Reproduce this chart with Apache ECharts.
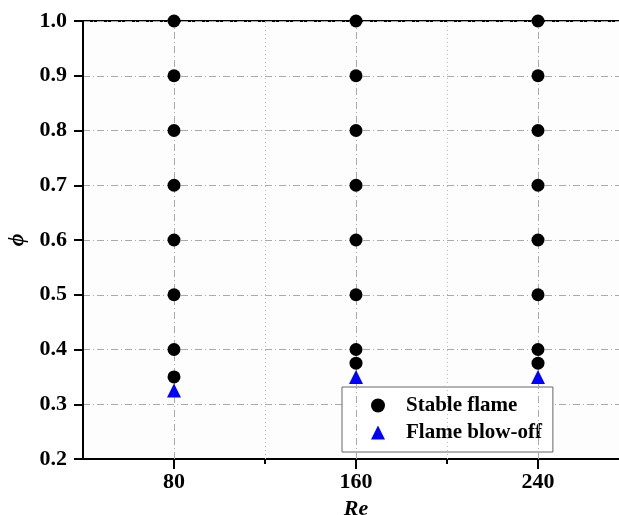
<!DOCTYPE html>
<html><head><meta charset="utf-8">
<script src="https://cdn.jsdelivr.net/npm/echarts@6/dist/echarts.min.js"></script>
<style>html,body{margin:0;padding:0;background:#fff}#c{width:619px;height:515px}</style>
</head><body><div id="c"></div>
<script>
var reValues = [80, 160, 240];
var minorRe = [120, 200];
var stable80 = [1.0, 0.9, 0.8, 0.7, 0.6, 0.5, 0.4, 0.35];
var stable160 = [1.0, 0.9, 0.8, 0.7, 0.6, 0.5, 0.4, 0.375];
var stable240 = [1.0, 0.9, 0.8, 0.7, 0.6, 0.5, 0.4, 0.375];
var blowOff = [0.325, 0.35, 0.35];
var seriesNames = ['Stable flame', 'Flame blow-off'];

var stableData = [];
[stable80, stable160, stable240].forEach(function (arr, i) {
  arr.forEach(function (v) { stableData.push([reValues[i], v]); });
});
var blowData = blowOff.map(function (v, i) { return [reValues[i], v]; });

var font = 'Liberation Serif';
var chart = echarts.init(document.getElementById('c'));
chart.setOption({
  animation: false,
  backgroundColor: '#fff',
  grid: { left: 83, right: -10, top: 21, bottom: 56, containLabel: false, outerBoundsMode: 'none',
    show: true, borderColor: '#000', borderWidth: 2, backgroundColor: '#fdfdfd' },
  xAxis: [{
    type: 'value', min: 40, max: 280, interval: 40, position: 'bottom',
    name: 'Re', nameLocation: 'middle', nameGap: 36,
    nameTextStyle: { fontFamily: font, fontWeight: 'bold', fontStyle: 'italic', fontSize: 22, color: '#000' },
    axisLine: { show: true, lineStyle: { color: '#000', width: 2 } },
    axisTick: { show: true, length: 10, inside: false, customValues: reValues, lineStyle: { color: '#000', width: 2 } },
    axisLabel: { customValues: reValues, margin: 12, fontFamily: font, fontWeight: 'bold', fontSize: 22, color: '#000' },
    splitLine: { show: false }
  }, {
    type: 'value', min: 40, max: 280, interval: 40, position: 'bottom',
    axisLine: { show: false },
    axisTick: { show: true, length: 5, customValues: minorRe, lineStyle: { color: '#000', width: 2 } },
    axisLabel: { show: false },
    splitLine: { show: false }
  }],
  yAxis: {
    type: 'value', min: 0.2, max: 1.0, interval: 0.1,
    name: 'ϕ', nameLocation: 'middle', nameGap: 53,
    nameTextStyle: { fontFamily: font, fontWeight: 'bold', fontStyle: 'italic', fontSize: 22, color: '#000' },
    axisLine: { show: true, lineStyle: { color: '#000', width: 2 } },
    axisTick: { show: true, length: 9, lineStyle: { color: '#000', width: 2 } },
    axisLabel: { margin: 16, fontFamily: font, fontWeight: 'bold', fontSize: 22, color: '#000',
      formatter: function (v) { return v.toFixed(1); } },
    splitLine: { show: true, lineStyle: { color: '#aaa', width: 1, type: [7, 3, 1, 3] } }
  },
  legend: {
    left: 342, top: 387, orient: 'vertical',
    backgroundColor: '#fff', borderColor: '#666', borderWidth: 1,
    padding: [8, 11, 9, 29], itemGap: 6, itemWidth: 14, itemHeight: 14,
    textStyle: { fontFamily: font, fontWeight: 'bold', fontSize: 21, color: '#000', padding: [0, 0, 0, 16] },
    data: [{ name: seriesNames[0], icon: 'circle' }, { name: seriesNames[1], icon: 'triangle' }]
  },
  series: [{
    name: seriesNames[0], type: 'scatter', symbol: 'circle', symbolSize: 13, z: 5,
    itemStyle: { color: '#000', opacity: 1 }, data: stableData,
    markLine: {
      silent: true, symbol: 'none', label: { show: false },
      lineStyle: { color: '#aaa', width: 1, type: [7, 3, 1, 3] },
      data: reValues.map(function (v) { return { xAxis: v }; })
    }
  }, {
    name: seriesNames[1], type: 'scatter', symbol: 'triangle', symbolSize: 14, z: 6,
    itemStyle: { color: '#0000ff', opacity: 1 }, data: blowData,
    markLine: {
      silent: true, symbol: 'none', label: { show: false },
      lineStyle: { color: '#bbb', width: 1, type: [1, 3] },
      data: minorRe.map(function (v) { return { xAxis: v }; })
    }
  }]
});
</script></body></html>
